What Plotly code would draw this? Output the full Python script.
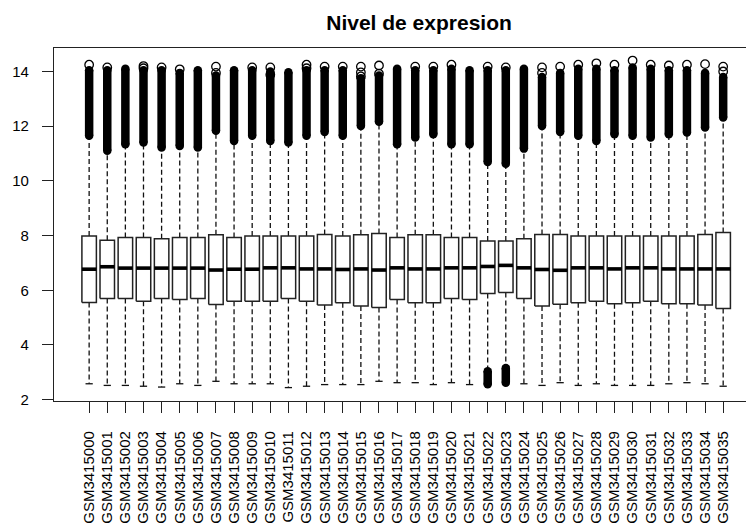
import plotly.graph_objects as go

samples = ["GSM34150%02d" % i for i in range(36)]

q1 = [5.55, 5.70, 5.70, 5.60, 5.70, 5.66, 5.70, 5.48, 5.60, 5.60,
      5.60, 5.70, 5.60, 5.46, 5.54, 5.42, 5.37, 5.66, 5.54, 5.54,
      5.70, 5.66, 5.88, 5.92, 5.70, 5.42, 5.49, 5.54, 5.60, 5.51,
      5.54, 5.60, 5.51, 5.51, 5.46, 5.33]
med = [6.77, 6.86, 6.81, 6.81, 6.81, 6.81, 6.81, 6.74, 6.77, 6.77,
       6.82, 6.82, 6.78, 6.78, 6.76, 6.78, 6.74, 6.82, 6.78, 6.78,
       6.82, 6.82, 6.87, 6.91, 6.82, 6.76, 6.73, 6.82, 6.82, 6.78,
       6.82, 6.82, 6.78, 6.78, 6.78, 6.78]
q3 = [7.98, 7.83, 7.93, 7.93, 7.88, 7.93, 7.93, 8.03, 7.93, 7.98,
      7.98, 7.98, 7.98, 8.04, 7.98, 8.03, 8.08, 7.93, 8.03, 8.03,
      7.93, 7.93, 7.80, 7.80, 7.88, 8.04, 8.04, 7.98, 7.98, 7.98,
      7.98, 7.98, 7.98, 7.98, 8.04, 8.11]
whisk_lo = [2.58, 2.52, 2.52, 2.49, 2.46, 2.58, 2.52, 2.67, 2.58, 2.58,
            2.58, 2.44, 2.49, 2.55, 2.55, 2.55, 2.67, 2.62, 2.62, 2.55,
            2.62, 2.55, 3.10, 3.22, 2.58, 2.52, 2.62, 2.52, 2.58, 2.52,
            2.52, 2.52, 2.58, 2.62, 2.58, 2.49]
# dense upper outlier run (lowest and highest circle centres)
out_up_start = [11.65, 11.10, 11.34, 11.40, 11.22, 11.28, 11.22, 11.83, 11.46, 11.65,
                11.46, 11.40, 11.65, 11.79, 11.65, 12.01, 12.16, 11.34, 11.59, 11.71,
                11.34, 11.34, 10.69, 10.63, 11.18, 12.01, 11.79, 11.65, 11.46, 11.71,
                11.65, 11.59, 11.71, 11.77, 11.95, 12.32]
out_up_end = [14.05, 14.05, 14.10, 14.05, 14.05, 13.95, 14.05, 13.85, 14.05, 14.05,
              14.00, 13.97, 14.05, 14.05, 14.05, 13.75, 13.85, 14.10, 14.05, 14.05,
              14.10, 14.05, 14.05, 14.05, 14.10, 13.80, 13.95, 14.10, 14.10, 14.05,
              14.15, 14.10, 14.05, 14.05, 13.95, 13.80]
# dense lower outlier run (only two samples)
out_lo_start = [None] * 22 + [3.04, 3.16] + [None] * 12
out_lo_end = [None] * 22 + [2.56, 2.62] + [None] * 12
# separate top outliers
top_out = [[14.25], [14.15], [], [14.20, 14.12], [14.15], [14.08], [], [14.18, 13.95], [], [14.15],
           [14.15, 13.88], [], [14.25, 14.12], [14.18], [14.18], [14.18, 13.97, 13.82], [14.22, 13.92], [], [14.18], [14.18],
           [14.25], [], [14.18], [14.15], [], [14.15, 13.95], [14.18], [14.25], [14.30], [14.25],
           [14.40], [14.25], [14.22], [14.25], [14.27], [14.18, 14.00]]

yticks = [2, 4, 6, 8, 10, 12, 14]

n = len(samples)
pos = list(range(1, n + 1))
hw = 0.4   # half box width
sw = 0.2   # half staple width

bx, by = [], []
mx, my = [], []
wx, wy = [], []
sx, sy = [], []
ox, oy = [], []
cx, cy = [], []
for i, p in enumerate(pos):
    bx += [p - hw, p + hw, p + hw, p - hw, p - hw, None]
    by += [q1[i], q1[i], q3[i], q3[i], q1[i], None]
    mx += [p - hw, p + hw, None]
    my += [med[i], med[i], None]
    wx += [p, p, None, p, p, None]
    wy += [q3[i], out_up_start[i], None, q1[i], whisk_lo[i], None]
    sx += [p - sw, p + sw, None]
    sy += [whisk_lo[i], whisk_lo[i], None]
    ox += [p, p, None]
    oy += [out_up_start[i], out_up_end[i], None]
    if out_lo_start[i] is not None:
        ox += [p, p, None]
        oy += [out_lo_start[i], out_lo_end[i], None]
    for v in top_out[i]:
        cx.append(p)
        cy.append(v)

ink = "#111111"
fig = go.Figure()
fig.add_trace(go.Scatter(x=wx, y=wy, mode="lines",
                         line=dict(color=ink, width=1.3, dash="5px,3px"), hoverinfo="skip"))
fig.add_trace(go.Scatter(x=sx, y=sy, mode="lines",
                         line=dict(color=ink, width=1.3), hoverinfo="skip"))
fig.add_trace(go.Scatter(x=bx, y=by, mode="lines", fill="toself", fillcolor="white",
                         line=dict(color="#222222", width=1.5), hoverinfo="skip"))
fig.add_trace(go.Scatter(x=mx, y=my, mode="lines",
                         line=dict(color="black", width=3.6), hoverinfo="skip"))
fig.add_trace(go.Scatter(x=ox, y=oy, mode="lines+markers",
                         line=dict(color="black", width=8.5),
                         marker=dict(color="black", size=8.5, symbol="circle"), hoverinfo="skip"))
fig.add_trace(go.Scatter(x=cx, y=cy, mode="markers",
                         marker=dict(color="black", size=8.5, symbol="circle-open",
                                     line=dict(width=1.3, color="black")), hoverinfo="skip"))

font = "Liberation Sans, Arial, sans-serif"
fig.update_layout(
    width=746, height=524,
    margin=dict(l=54, r=0, t=48, b=123),
    paper_bgcolor="white", plot_bgcolor="white",
    showlegend=False,
    font=dict(family=font, size=15, color="black"),
    title=dict(text="<b>Nivel de expresion</b>", x=393.5 / 746, xanchor="center",
               xref="paper", yref="container", y=1 - 23 / 524, yanchor="middle",
               font=dict(family=font, size=21, color="black")),
)
fig.update_xaxes(range=[-0.94, 37.26], showgrid=False, zeroline=False,
                 showline=True, mirror=True, linecolor="#222222", linewidth=1.3,
                 ticks="outside", ticklen=11, tickwidth=1.1, tickcolor="#222222",
                 tickvals=pos, ticktext=samples, tickangle=-90,
                 ticklabelstandoff=12, tickfont=dict(size=15))
fig.update_yaxes(range=[1.95, 14.86], showgrid=False, zeroline=False,
                 showline=True, mirror=False, linecolor="#222222", linewidth=1.3,
                 ticks="outside", ticklen=11, tickwidth=1.1, tickcolor="#222222",
                 tickvals=yticks, ticktext=[str(v) for v in yticks],
                 ticklabelstandoff=10, tickfont=dict(size=15))

fig.write_html("out.html")
